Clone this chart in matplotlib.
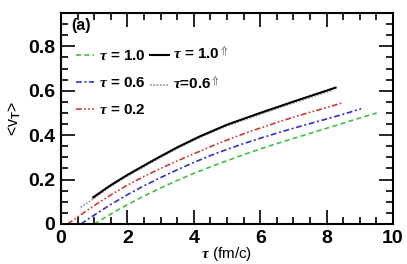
import matplotlib
matplotlib.use("Agg")
import matplotlib.pyplot as plt
from matplotlib.ticker import MultipleLocator

plt.rcParams['font.family'] = ['Liberation Sans', 'DejaVu Sans']
plt.rcParams['font.weight'] = 'bold'
plt.rcParams['mathtext.fontset'] = 'custom'
plt.rcParams['mathtext.it'] = 'Liberation Serif:italic'
plt.rcParams['mathtext.rm'] = 'Liberation Serif'
plt.rcParams['mathtext.sf'] = 'Liberation Sans:bold'

# values
tau_g = [1.0, 1.5, 2.0, 2.5, 3.0, 3.5, 4.0, 4.5, 5.0, 5.5, 6.0, 6.5, 7.0, 7.5, 8.0, 8.5, 9.0, 9.51]
vt_g = [0.0, 0.045, 0.087, 0.126, 0.162, 0.196, 0.228, 0.257, 0.285, 0.312, 0.338, 0.362,
        0.385, 0.408, 0.431, 0.454, 0.477, 0.500]

tau_b = [0.6, 1.0, 1.5, 2.0, 2.5, 3.0, 3.5, 4.0, 4.5, 5.0, 5.5, 6.0, 6.5, 7.0, 7.5, 8.0, 8.5, 9.04]
vt_b = [0.0, 0.040, 0.088, 0.132, 0.172, 0.209, 0.244, 0.277, 0.308, 0.336, 0.362, 0.386,
        0.409, 0.431, 0.452, 0.473, 0.494, 0.519]

tau_r = [0.2, 0.6, 1.0, 1.5, 2.0, 2.5, 3.0, 3.5, 4.0, 4.5, 5.0, 5.5, 6.0, 6.5, 7.0, 7.5, 8.0, 8.47]
vt_r = [0.0, 0.042, 0.083, 0.131, 0.175, 0.214, 0.250, 0.284, 0.316, 0.348, 0.378, 0.406,
        0.432, 0.457, 0.481, 0.503, 0.524, 0.545]

tau_k = [0.97, 1.48, 2.0, 2.83, 3.5, 4.19, 5.0, 6.0, 7.0, 8.27]
vt_k = [0.120, 0.173, 0.221, 0.291, 0.345, 0.395, 0.447, 0.500, 0.551, 0.614]

tau_gr = [0.59, 0.97, 1.48, 2.0, 2.83, 3.5, 4.19, 5.0, 6.0, 7.0, 8.2]
vt_gr = [0.075, 0.113, 0.168, 0.216, 0.286, 0.340, 0.390, 0.442, 0.494, 0.545, 0.604]

fig = plt.figure(figsize=(4.07, 2.64), dpi=100)
ax = fig.add_axes([61 / 407, 1 - 224 / 264, 332 / 407, 211 / 264])

lg, = ax.plot(tau_g, vt_g, color='#40c040', lw=1.2, dashes=(3, 2))
lb, = ax.plot(tau_b, vt_b, color='#3030c8', lw=1.2, dashes=(3.5, 1.6, 1.2, 1.6))
lr, = ax.plot(tau_r, vt_r, color='#d03838', lw=1.2, dashes=(3.5, 1.4, 1, 1.4, 1, 1.4))
lgr, = ax.plot(tau_gr, vt_gr, color='#a0a0a0', lw=1.3, ls=(0, (1, 0.8)))
lk, = ax.plot(tau_k, vt_k, color='black', lw=1.5)

ax.set_xlim(0, 10)
ax.set_ylim(0, 0.95)
ax.xaxis.set_minor_locator(MultipleLocator(0.5))
ax.yaxis.set_minor_locator(MultipleLocator(0.05))
ax.set_xticks([0, 2, 4, 6, 8, 10])
ax.set_xticklabels(['0', '2', '4', '6', '8', '10'])
ax.set_yticks([0, 0.2, 0.4, 0.6, 0.8])
ax.set_yticklabels(['0', '0.2', '0.4', '0.6', '0.8'])
ax.tick_params(which='both', direction='in', top=True, right=True, width=1.2)
ax.tick_params(which='major', length=10, labelsize=14, pad=4)
ax.tick_params(which='minor', length=5)
for s in ax.spines.values():
    s.set_linewidth(1.5)

ax.set_xlabel(r'$\tau$ (fm/c)', fontsize=11)
ax.xaxis.set_label_coords(0.5, -0.1)
ax.set_ylabel(r'<v$_{\mathsf{T}}$>', fontsize=11.5, labelpad=4)

ax.text(0.03, 0.975, '(a)', transform=ax.transAxes, fontsize=11.5, va='top')

handles = [lg, lb, lr, lk, lgr]
labels = [r'$\tau$ = 1.0', r'$\tau$ = 0.6', r'$\tau$ = 0.2',
          r'$\tau$ = 1.0$^{\Uparrow}$', r'$\tau$=0.6$^{\Uparrow}$']
ax.legend(handles, labels, ncol=2, loc='upper left', bbox_to_anchor=(0.045, 0.845),
          frameon=False, fontsize=11, handlelength=1.2, handletextpad=0.3,
          columnspacing=0.3, labelspacing=0.85, borderpad=0, borderaxespad=0)

fig.savefig('out.png', dpi=100)
